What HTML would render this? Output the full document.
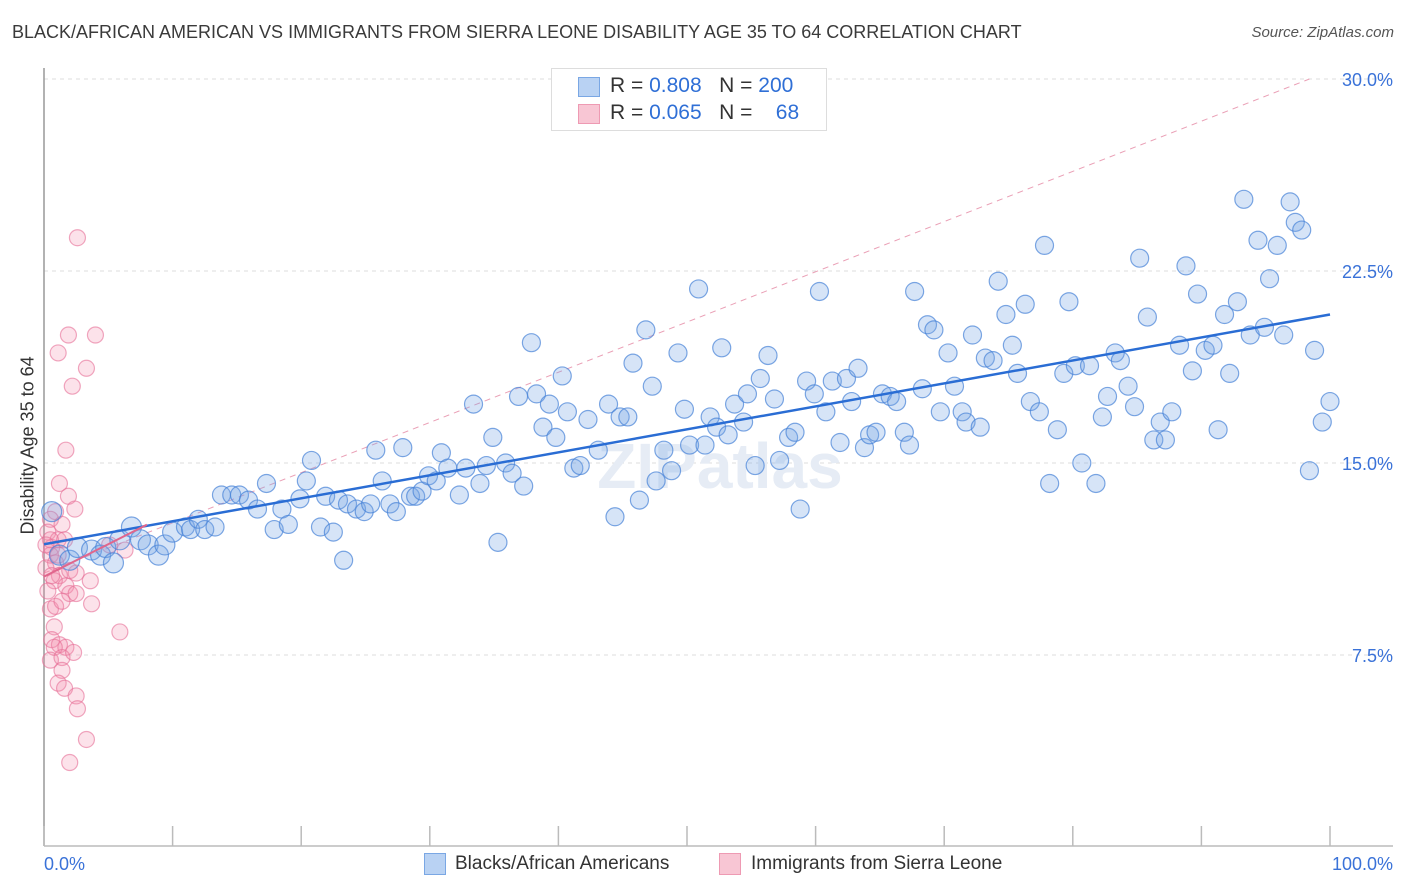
<!DOCTYPE html>
<html><head><meta charset="utf-8"><style>
body{margin:0;background:#fff;font-family:"Liberation Sans",sans-serif}
#wrap{position:relative;width:1406px;height:892px;overflow:hidden}
.t{position:absolute;white-space:nowrap}
</style></head><body>
<div id="wrap">
<div class="t" style="left:12px;top:22px;font-size:18px;color:#3a3a3a">BLACK/AFRICAN AMERICAN VS IMMIGRANTS FROM SIERRA LEONE DISABILITY AGE 35 TO 64 CORRELATION CHART</div>
<div class="t" style="right:12px;top:24px;font-size:15px;color:#555;font-style:italic">Source: ZipAtlas.com</div>
<div class="t" style="left:-52px;top:444px;font-size:18px;color:#333;transform:rotate(-90deg);width:160px;text-align:center">Disability Age 35 to 64</div>
<svg id="svg" width="1406" height="892" style="position:absolute;left:0;top:0"></svg>
<div style="position:absolute;left:551px;top:68px;width:274px;height:61px;border:1px solid #ddd;background:#fff">
 <div style="position:absolute;left:26px;top:8px;width:20px;height:18px;background:#b9d2f3;border:1px solid #7aa7e4"></div>
 <div class="t" style="left:58px;top:5px;font-size:21px;color:#333">R = <span style="color:#2f6fd6">0.808</span>&nbsp;&nbsp;&nbsp;N = <span style="color:#2f6fd6">200</span></div>
 <div style="position:absolute;left:26px;top:35px;width:20px;height:18px;background:#f8c6d4;border:1px solid #ee9ab3"></div>
 <div class="t" style="left:58px;top:32px;font-size:21px;color:#333">R = <span style="color:#2f6fd6">0.065</span>&nbsp;&nbsp;&nbsp;N = &nbsp;&nbsp;&nbsp;<span style="color:#2f6fd6">68</span></div>
</div>
<div style="position:absolute;left:424px;top:853px;width:20px;height:20px;background:#b9d2f3;border:1px solid #7aa7e4"></div>
<div class="t" style="left:455px;top:853px;font-size:19px;color:#333">Blacks/African Americans</div>
<div style="position:absolute;left:719px;top:853px;width:20px;height:20px;background:#f8c6d4;border:1px solid #ee9ab3"></div>
<div class="t" style="left:751px;top:853px;font-size:19px;color:#333">Immigrants from Sierra Leone</div>
</div>
<script>
const yTicks=[7.5,15,22.5,30];
const yTickLabels=["7.5%","15.0%","22.5%","30.0%"];
const xTicks=[0,10,20,30,40,50,60,70,80,90,100];
const blueX=[0.6,1.2,2.0,2.6,3.7,4.4,4.8,5.4,5.9,6.8,7.5,8.1,8.9,9.4,10.0,11.0,11.4,12.0,12.5,13.3,13.8,14.6,15.2,15.9,16.6,17.3,17.9,18.5,19.0,19.9,20.4,20.8,21.5,21.9,22.5,22.9,23.3,23.6,24.3,24.9,25.4,25.8,26.3,26.9,27.4,27.9,28.5,28.9,29.4,29.9,30.5,30.9,31.4,32.3,32.8,33.4,33.9,34.4,34.9,35.3,35.9,36.4,36.9,37.3,37.9,38.3,38.8,39.3,39.8,40.3,40.7,41.2,41.7,42.3,43.1,43.9,44.4,44.8,45.4,45.8,46.3,46.8,47.3,47.6,48.2,48.8,49.3,49.8,50.2,50.9,51.4,51.8,52.3,52.7,53.2,53.7,54.4,54.7,55.3,55.7,56.3,56.8,57.2,57.9,58.4,58.8,59.3,59.9,60.3,60.8,61.3,61.9,62.4,62.8,63.3,63.8,64.2,64.7,65.2,65.8,66.3,66.9,67.3,67.7,68.3,68.7,69.2,69.7,70.3,70.8,71.4,71.7,72.2,72.8,73.2,73.8,74.2,74.8,75.3,75.7,76.3,76.7,77.4,77.8,78.2,78.8,79.3,79.7,80.2,80.7,81.3,81.8,82.3,82.7,83.3,83.7,84.3,84.8,85.2,85.8,86.3,86.8,87.2,87.7,88.3,88.8,89.3,89.7,90.3,90.9,91.3,91.8,92.2,92.8,93.3,93.8,94.4,94.9,95.3,95.9,96.4,96.9,97.3,97.8,98.4,98.8,99.4,100];
const blueY=[13.1,11.4,11.2,11.7,11.6,11.4,11.7,11.1,12.0,12.5,12.0,11.8,11.4,11.8,12.3,12.5,12.4,12.8,12.4,12.5,13.75,13.75,13.75,13.55,13.2,14.2,12.4,13.2,12.6,13.6,14.3,15.1,12.5,13.7,12.3,13.55,11.2,13.4,13.2,13.1,13.4,15.5,14.3,13.4,13.1,15.6,13.7,13.7,13.9,14.5,14.3,15.4,14.8,13.75,14.8,17.3,14.2,14.9,16.0,11.9,15.0,14.6,17.6,14.1,19.7,17.7,16.4,17.3,16.0,18.4,17.0,14.8,14.9,16.7,15.5,17.3,12.9,16.8,16.8,18.9,13.55,20.2,18.0,14.3,15.5,14.7,19.3,17.1,15.7,21.8,15.7,16.8,16.4,19.5,16.1,17.3,16.6,17.7,14.9,18.3,19.2,17.5,15.1,16.0,16.2,13.2,18.2,17.7,21.7,17.0,18.2,15.8,18.3,17.4,18.7,15.6,16.1,16.2,17.7,17.6,17.4,16.2,15.7,21.7,17.9,20.4,20.2,17.0,19.3,18.0,17.0,16.6,20.0,16.4,19.1,19.0,22.1,20.8,19.6,18.5,21.2,17.4,17.0,23.5,14.2,16.3,18.5,21.3,18.8,15.0,18.8,14.2,16.8,17.6,19.3,19.0,18.0,17.2,23.0,20.7,15.9,16.6,15.9,17.0,19.6,22.7,18.6,21.6,19.4,19.6,16.3,20.8,18.5,21.3,25.3,20.0,23.7,20.3,22.2,23.5,20.0,25.2,24.4,24.1,14.7,19.4,16.6,17.4];
const pinkX=[2.6,1.9,4.0,1.1,3.3,2.2,1.7,1.2,1.9,0.9,2.4,0.5,1.4,0.3,1.1,0.6,1.6,0.5,0.9,0.15,1.2,2.0,2.5,3.6,0.8,1.7,2.0,2.5,3.7,0.5,0.9,0.8,0.6,1.2,1.7,0.8,0.5,1.4,2.3,1.4,1.1,1.6,2.5,2.6,3.3,2.0,5.9,6.3,5.1,1.1,0.5,0.15,0.6,0.3,1.4];
const pinkY=[23.8,20.0,20.0,19.3,18.7,18.0,15.5,14.2,13.7,13.1,13.2,12.8,12.6,12.3,12.0,11.7,12.0,11.4,11.1,10.9,10.6,10.8,10.7,10.4,10.4,10.2,9.9,9.9,9.5,9.3,9.4,8.6,8.1,7.9,7.8,7.8,7.3,7.4,7.6,6.9,6.4,6.2,5.9,5.4,4.2,3.3,8.4,11.6,11.8,11.4,12.0,11.8,10.6,10.0,9.6];
const pinkDashStart=[0,10.7], pinkDashEnd=[98.4,30];
const X0=44,X1=1330,YB=847,PX=25.6;
const sx=v=>X0+(X1-X0)*v/100, sy=v=>YB-v*PX;
const svg=document.getElementById('svg'),NS='http://www.w3.org/2000/svg';
function mk(tag,at,parent){const e=document.createElementNS(NS,tag);for(const k in at)e.setAttribute(k,at[k]);(parent||svg).appendChild(e);return e;}
yTicks.forEach((v,i)=>{
 const g=mk('line',{x1:X0,x2:1393,y1:sy(v),y2:sy(v),stroke:'#ddd','stroke-dasharray':'4,4'});
 
 
 const t=mk('text',{x:1393,y:sy(v)+7,'text-anchor':'end','font-size':18,fill:'#3a72d8','font-family':'Liberation Sans'});
 t.textContent=yTickLabels[i];
 
 
});
let ax=mk('line',{x1:X0,x2:X0,y1:68,y2:846,stroke:'#999','stroke-width':1.5});


ax=mk('line',{x1:X0,x2:1393,y1:846,y2:846,stroke:'#bbb','stroke-width':1.5});


xTicks.forEach(v=>{
 const t=mk('line',{x1:sx(v),x2:sx(v),y1:826,y2:846,stroke:'#bbb','stroke-width':1.5});
 
 
});
[[0,'0.0%','start',44],[100,'100.0%','end',1393]].forEach(a=>{
 const t=mk('text',{x:a[3],y:870,'text-anchor':a[2],'font-size':18,fill:'#3a72d8','font-family':'Liberation Sans'});
 t.textContent=a[1];
 
 
});
const wm=mk('text',{x:720,y:488,'text-anchor':'middle','font-size':64,fill:'#e6ecf5','font-family':'Liberation Sans','font-weight':'bold'});
wm.textContent='ZIPatlas';


let pd=mk('line',{x1:sx(pinkDashStart[0]),y1:sy(pinkDashStart[1]),x2:sx(pinkDashEnd[0]),y2:sy(pinkDashEnd[1]),stroke:'#eaa0b6','stroke-width':1,'stroke-dasharray':'6,5'});


pinkX.forEach((x,i)=>{
 const c=mk('circle',{cx:sx(x),cy:sy(pinkY[i]),r:8,fill:'rgba(242,140,170,0.25)',stroke:'rgba(230,110,150,0.6)','stroke-width':1.2});
 
 
});
blueX.forEach((x,i)=>{
 const c=mk('circle',{cx:sx(x),cy:sy(blueY[i]),r:i<15?10:9,fill:'rgba(120,165,230,0.3)',stroke:'rgba(70,130,215,0.7)','stroke-width':1.2});
 
 
});
function reg(xs,ys){const n=xs.length;let mx=0,my=0;xs.forEach((x,i)=>{mx+=x;my+=ys[i]});mx/=n;my/=n;let sxy=0,sxx=0;xs.forEach((x,i)=>{sxy+=(x-mx)*(ys[i]-my);sxx+=(x-mx)**2});const b=sxy/sxx;return [my-b*mx,b];}
const [ba,bb]=reg(blueX,blueY);
let tl=mk('line',{x1:sx(0),y1:sy(ba),x2:sx(100),y2:sy(ba+bb*100),stroke:'#2a6dd4','stroke-width':2.5});


const [pa,pb]=reg(pinkX,pinkY);
tl=mk('line',{x1:sx(0),y1:sy(pa),x2:sx(8),y2:sy(pa+pb*8),stroke:'#e0668c','stroke-width':2});


</script>
</body></html>
